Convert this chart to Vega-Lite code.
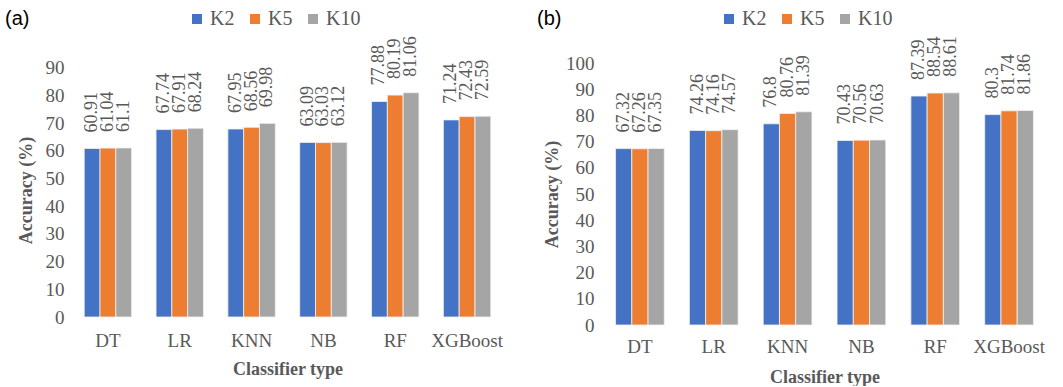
{
  "$schema": "https://vega.github.io/schema/vega-lite/v6.json",
  "padding": {"left": 5, "top": 9, "right": 0, "bottom": 0},
  "spacing": 34,
  "datasets": {
    "a": [
      {"clf": "DT", "k": "K2", "acc": 60.91}, {"clf": "DT", "k": "K5", "acc": 61.04}, {"clf": "DT", "k": "K10", "acc": 61.1},
      {"clf": "LR", "k": "K2", "acc": 67.74}, {"clf": "LR", "k": "K5", "acc": 67.91}, {"clf": "LR", "k": "K10", "acc": 68.24},
      {"clf": "KNN", "k": "K2", "acc": 67.95}, {"clf": "KNN", "k": "K5", "acc": 68.56}, {"clf": "KNN", "k": "K10", "acc": 69.98},
      {"clf": "NB", "k": "K2", "acc": 63.09}, {"clf": "NB", "k": "K5", "acc": 63.03}, {"clf": "NB", "k": "K10", "acc": 63.12},
      {"clf": "RF", "k": "K2", "acc": 77.88}, {"clf": "RF", "k": "K5", "acc": 80.19}, {"clf": "RF", "k": "K10", "acc": 81.06},
      {"clf": "XGBoost", "k": "K2", "acc": 71.24}, {"clf": "XGBoost", "k": "K5", "acc": 72.43}, {"clf": "XGBoost", "k": "K10", "acc": 72.59}
    ],
    "b": [
      {"clf": "DT", "k": "K2", "acc": 67.32}, {"clf": "DT", "k": "K5", "acc": 67.26}, {"clf": "DT", "k": "K10", "acc": 67.35},
      {"clf": "LR", "k": "K2", "acc": 74.26}, {"clf": "LR", "k": "K5", "acc": 74.16}, {"clf": "LR", "k": "K10", "acc": 74.57},
      {"clf": "KNN", "k": "K2", "acc": 76.8}, {"clf": "KNN", "k": "K5", "acc": 80.76}, {"clf": "KNN", "k": "K10", "acc": 81.39},
      {"clf": "NB", "k": "K2", "acc": 70.43}, {"clf": "NB", "k": "K5", "acc": 70.56}, {"clf": "NB", "k": "K10", "acc": 70.63},
      {"clf": "RF", "k": "K2", "acc": 87.39}, {"clf": "RF", "k": "K5", "acc": 88.54}, {"clf": "RF", "k": "K10", "acc": 88.61},
      {"clf": "XGBoost", "k": "K2", "acc": 80.3}, {"clf": "XGBoost", "k": "K5", "acc": 81.74}, {"clf": "XGBoost", "k": "K10", "acc": 81.86}
    ]
  },
  "hconcat": [
    {
      "width": 431,
      "height": 254,
      "data": {"name": "a"},
      "encoding": {
        "x": {
          "field": "clf", "type": "nominal",
          "sort": ["DT", "LR", "KNN", "NB", "RF", "XGBoost"],
          "scale": {"paddingInner": 0.34, "paddingOuter": 0.17},
          "axis": {"labelAngle": 0, "labelPadding": 14, "titlePadding": 10, "title": "Classifier type"}
        },
        "xOffset": {"field": "k", "type": "nominal", "sort": ["K2", "K5", "K10"], "scale": {"paddingInner": 0, "paddingOuter": 0}},
        "y": {
          "field": "acc", "type": "quantitative",
          "scale": {"domain": [0, 91.8], "nice": false},
          "axis": {"values": [0, 10, 20, 30, 40, 50, 60, 70, 80, 90], "labelPadding": 8, "titlePadding": 10, "title": "Accuracy (%)"}
        }
      },
      "layer": [
        {
          "mark": {"type": "bar", "stroke": "#f2f2f2", "strokeWidth": 0.8},
          "encoding": {
            "color": {
              "field": "k", "type": "nominal",
              "scale": {"domain": ["K2", "K5", "K10"], "range": ["#4472C4", "#ED7D31", "#A5A5A5"]},
              "legend": {
                "orient": "none", "direction": "horizontal", "legendX": -67, "legendY": -54,
                "title": "(a)", "titleOrient": "left", "titlePadding": 157,
                "titleFont": "Liberation Sans", "titleFontSize": 20, "titleFontWeight": "normal", "titleColor": "#000000",
                "labelFont": "Liberation Serif", "labelFontSize": 20, "labelColor": "#595959",
                "symbolType": "square", "symbolSize": 100, "symbolStrokeWidth": 0, "labelOffset": 3, "columnPadding": 10, "padding": 0
              }
            }
          }
        },
        {
          "mark": {"type": "text", "angle": 270, "align": "left", "baseline": "middle", "dx": 16, "fontSize": 18, "font": "Liberation Serif", "color": "#595959"},
          "encoding": {"text": {"field": "acc", "type": "quantitative", "format": "~g"}}
        }
      ]
    },
    {
      "width": 443,
      "height": 262,
      "data": {"name": "b"},
      "encoding": {
        "x": {
          "field": "clf", "type": "nominal",
          "sort": ["DT", "LR", "KNN", "NB", "RF", "XGBoost"],
          "scale": {"paddingInner": 0.34, "paddingOuter": 0.17},
          "axis": {"labelAngle": 0, "labelPadding": 12, "titlePadding": 12, "title": "Classifier type"}
        },
        "xOffset": {"field": "k", "type": "nominal", "sort": ["K2", "K5", "K10"], "scale": {"paddingInner": 0, "paddingOuter": 0}},
        "y": {
          "field": "acc", "type": "quantitative",
          "scale": {"domain": [0, 100], "nice": false},
          "axis": {"values": [0, 10, 20, 30, 40, 50, 60, 70, 80, 90, 100], "labelPadding": 9, "titlePadding": 4, "title": "Accuracy (%)"}
        }
      },
      "layer": [
        {
          "mark": {"type": "bar", "stroke": "#f2f2f2", "strokeWidth": 0.8},
          "encoding": {
            "color": {
              "field": "k", "type": "nominal",
              "scale": {"domain": ["K2", "K5", "K10"], "range": ["#4472C4", "#ED7D31", "#A5A5A5"]},
              "legend": {
                "orient": "none", "direction": "horizontal", "legendX": -66, "legendY": -54,
                "title": "(b)", "titleOrient": "left", "titlePadding": 157,
                "titleFont": "Liberation Sans", "titleFontSize": 20, "titleFontWeight": "normal", "titleColor": "#000000",
                "labelFont": "Liberation Serif", "labelFontSize": 20, "labelColor": "#595959",
                "symbolType": "square", "symbolSize": 100, "symbolStrokeWidth": 0, "labelOffset": 3, "columnPadding": 10, "padding": 0
              }
            }
          }
        },
        {
          "mark": {"type": "text", "angle": 270, "align": "left", "baseline": "middle", "dx": 16, "fontSize": 18, "font": "Liberation Serif", "color": "#595959"},
          "encoding": {"text": {"field": "acc", "type": "quantitative", "format": "~g"}}
        }
      ]
    }
  ],
  "resolve": {
    "scale": {"color": "independent", "y": "independent", "x": "independent", "xOffset": "independent"},
    "legend": {"color": "independent"}
  },
  "config": {
    "font": "Liberation Serif",
    "view": {"stroke": null},
    "axis": {
      "domain": false, "ticks": false, "grid": false,
      "labelFont": "Liberation Serif", "labelFontSize": 19, "labelColor": "#595959",
      "titleFont": "Liberation Serif", "titleFontSize": 18, "titleFontWeight": "bold", "titleColor": "#595959"
    }
  }
}
